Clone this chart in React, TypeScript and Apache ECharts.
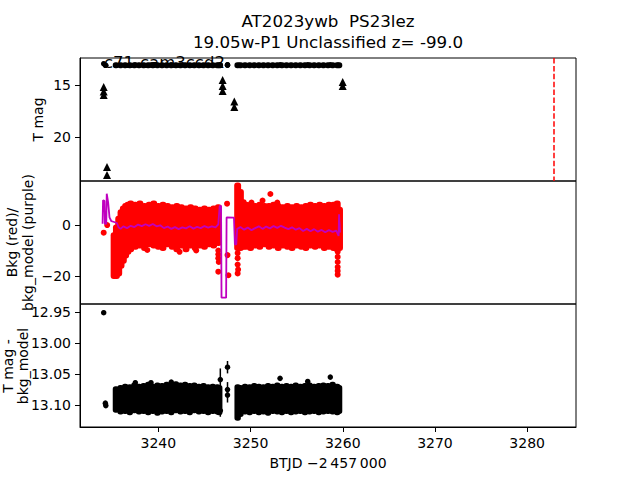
import React, { useEffect, useRef } from "react";
import * as echarts from "echarts";

// ---------- data ----------
const X_MIN = 3231.5;
const X_MAX = 3285.3;
const xTicks = [3240, 3250, 3260, 3270, 3280];
const magTicks = [15, 20];
const bkgTicks = [0, -20];
const diffTicks = [12.95, 13.0, 13.05, 13.1];

const titleLines = ["AT2023ywb  PS23lez", "19.05w-P1 Unclassified z= -99.0"];
const cameraLabel = "c71-cam3ccd2";
const xLabel = "BTJD \u22122\u2009457\u2009000";

const discoveryTime = 3282.84;

// upper limits (T mag) [time, mag]
const upperLimits: [number, number][] = [
  [3234.07, 15.18], [3234.07, 15.61], [3234.07, 15.95],
  [3234.43, 22.86], [3234.43, 23.62],
  [3246.97, 14.51], [3246.97, 15.09], [3246.97, 15.57],
  [3248.24, 16.57], [3248.24, 17.1],
  [3259.99, 14.7], [3259.99, 15.09],
];

// TESS difference photometry envelope: [time, brightest mag, faintest mag]
const magBins: [number, number, number][] = [
  [3235.4, 13.074, 13.108], [3235.9, 13.072, 13.111], [3236.4, 13.07, 13.11],
  [3236.9, 13.071, 13.112], [3237.4, 13.068, 13.109], [3237.9, 13.07, 13.111],
  [3238.4, 13.069, 13.11], [3238.9, 13.067, 13.112], [3239.4, 13.07, 13.11],
  [3239.9, 13.068, 13.113], [3240.4, 13.069, 13.111], [3240.9, 13.067, 13.11],
  [3241.4, 13.068, 13.112], [3241.9, 13.066, 13.109], [3242.4, 13.068, 13.111],
  [3242.9, 13.067, 13.11], [3243.4, 13.069, 13.112], [3243.9, 13.068, 13.109],
  [3244.4, 13.07, 13.111], [3244.9, 13.069, 13.11], [3245.4, 13.071, 13.112],
  [3245.9, 13.07, 13.11], [3246.4, 13.071, 13.111], [3246.6, 13.072, 13.112],
  [3248.6, 13.071, 13.121], [3248.9, 13.072, 13.115], [3249.4, 13.07, 13.111],
  [3249.9, 13.071, 13.112], [3250.4, 13.069, 13.11], [3250.9, 13.07, 13.112],
  [3251.4, 13.071, 13.111], [3251.9, 13.069, 13.113], [3252.4, 13.07, 13.11],
  [3252.9, 13.068, 13.111], [3253.4, 13.07, 13.112], [3253.9, 13.069, 13.11],
  [3254.4, 13.07, 13.112], [3254.9, 13.068, 13.111], [3255.4, 13.07, 13.11],
  [3255.9, 13.069, 13.112], [3256.4, 13.068, 13.111], [3256.9, 13.07, 13.11],
  [3257.4, 13.069, 13.112], [3257.9, 13.068, 13.111], [3258.4, 13.069, 13.11],
  [3258.9, 13.067, 13.111], [3259.4, 13.07, 13.112], [3259.6, 13.072, 13.11],
];

// isolated photometry points [time, mag]
const magPoints: [number, number][] = [
  [3234.07, 12.951], [3234.25, 13.097], [3234.3, 13.101],
  [3237.5, 13.064], [3239.2, 13.064], [3241.4, 13.063],
  [3253.2, 13.057], [3256.2, 13.062], [3258.65, 13.055],
];

// points with visible error bars [time, mag, err]
const magErrPoints: [number, number, number][] = [
  [3246.72, 13.059, 0.018], [3246.72, 13.109, 0.01],
  [3247.5, 13.039, 0.01], [3247.5, 13.075, 0.012], [3247.5, 13.084, 0.012],
];

// background flux envelope (red): [time, low, high]
const bkgBins: [number, number, number][] = [
  [3235.2, -20, -4], [3235.45, -20, -1], [3235.7, -19, 2.5], [3235.95, -16, 5],
  [3236.2, -14, 6.5], [3236.45, -12, 7.5], [3236.7, -10.5, 8], [3237.0, -9.5, 8.5],
  [3237.5, -8.5, 8], [3238.0, -8, 8.5], [3238.5, -9, 7.5], [3239.0, -7.5, 8],
  [3239.5, -8, 8.5], [3240.0, -8.5, 7.5], [3240.5, -9, 8], [3241.0, -7.5, 7.5],
  [3241.5, -8.5, 7], [3242.0, -9.5, 7.5], [3242.5, -8, 7], [3243.0, -9.5, 6.5],
  [3243.5, -8, 7], [3244.0, -9, 6.5], [3244.5, -8, 6], [3245.0, -8.5, 6.5],
  [3245.5, -7.5, 6], [3246.0, -8, 6.5], [3246.5, -7, 7],
  [3248.6, -9, 15.5], [3248.9, -9, 13], [3249.2, -8.5, 9], [3249.5, -8.5, 8],
  [3250.0, -9, 8], [3250.5, -8, 7.5], [3251.0, -8.5, 8], [3251.5, -7.5, 7.5],
  [3252.0, -8.5, 7.5], [3252.5, -8, 8], [3253.0, -9, 7.5], [3253.5, -8, 7],
  [3254.0, -8.5, 7.5], [3254.5, -9, 7], [3255.0, -8, 7.5], [3255.5, -8.5, 7],
  [3256.0, -9, 7.5], [3256.5, -8, 8], [3257.0, -8.5, 7.5], [3257.5, -8, 8],
  [3258.0, -9, 7.5], [3258.5, -8.5, 8], [3259.0, -9, 8], [3259.4, -9.5, 8.5],
  [3259.65, -9, 6],
];

// isolated background points [time, flux]
const bkgPoints: [number, number][] = [
  [3234.07, -3.0], [3234.45, 0.0],
  [3246.5, -10], [3246.5, -11.5], [3246.5, -13], [3246.55, -14.5], [3246.5, -18.3],
  [3247.45, 8.4], [3247.5, -11.8], [3247.6, -19.7],
  [3248.6, -11], [3248.6, -13], [3248.6, -15.5], [3248.65, -17.5], [3248.6, -19],
  [3250.1, 8.8], [3251.3, 9.6], [3252.15, 12.2], [3252.9, 8.8],
  [3259.45, -10.5], [3259.45, -12.5], [3259.45, -14.5], [3259.45, -16.5],
  [3259.45, -18], [3259.45, -19.5],
  [3238.8, -9.8], [3244.1, -10], [3242.3, -10.5],
];

// background model (purple) [time, flux]
const bkgModel: [number, number][] = [
  [3233.95, 0.5], [3234.0, 9.7], [3234.15, 9.5], [3234.2, 0.5], [3234.35, 0.5],
  [3234.4, 12.3], [3234.55, 9], [3234.7, 3], [3234.9, 1.5], [3235.2, 1.2],
  [3235.5, 0.8], [3235.7, -1], [3235.9, -1.5], [3236.2, -0.5], [3236.6, -1.2],
  [3237.0, -0.3], [3237.4, -0.8], [3237.8, 0.2], [3238.2, -0.4], [3238.6, 0.3],
  [3239.0, -0.3], [3239.4, 0.4], [3239.8, -0.5], [3240.2, -0.1], [3240.6, -1.2],
  [3241.0, -0.6], [3241.4, -1.5], [3241.8, -0.8], [3242.2, -1.6], [3242.6, -0.9],
  [3243.0, -1.3], [3243.4, -0.5], [3243.8, -1.4], [3244.2, -0.7], [3244.6, -1.2],
  [3245.0, -0.4], [3245.4, -1.0], [3245.8, -0.5], [3246.2, -0.9], [3246.5, 0.3],
  [3246.65, 7.5], [3246.8, 7.5], [3246.85, -28.5], [3247.35, -28.5], [3247.4, 3],
  [3248.2, 2.9], [3248.3, -7.6], [3248.45, -7.6], [3248.55, -1.5], [3248.9, -0.8],
  [3249.3, -1.8], [3249.7, -1.0], [3250.1, -2.0], [3250.5, -1.2], [3250.9, -0.5],
  [3251.3, -1.5], [3251.7, -0.6], [3252.1, -1.3], [3252.5, -0.4], [3252.9, -1.1],
  [3253.3, -0.3], [3253.7, -1.0], [3254.1, -1.6], [3254.5, -0.9], [3254.9, -1.8],
  [3255.3, -1.2], [3255.7, -2.3], [3256.1, -1.5], [3256.5, -2.4], [3256.9, -1.6],
  [3257.3, -2.6], [3257.7, -1.9], [3258.1, -2.8], [3258.5, -2.0], [3258.9, -2.7],
  [3259.3, -2.2], [3259.55, -4.3], [3259.6, 4.2], [3259.7, -2.9],
];

// ---------- chart ----------
const FONT = "DejaVu Sans";
const GRID_LEFT = 80;
const GRID_W = 496;
const PANEL_H = 123;
const PANEL_TOPS = [58, 181, 304];

const bandRender = (color: string, halfW: number, r: number) => (params: any, api: any) => {
  const t = api.value(0);
  const lo = api.value(1);
  const hi = api.value(2);
  const a = api.coord([t - halfW, lo]);
  const b = api.coord([t + halfW, hi]);
  const x = Math.min(a[0], b[0]) - r;
  const y = Math.min(a[1], b[1]) - r;
  return {
    type: "rect",
    shape: { x, y, width: Math.abs(b[0] - a[0]) + 2 * r, height: Math.abs(b[1] - a[1]) + 2 * r, r },
    style: { fill: color },
  };
};

const errRender = (params: any, api: any) => {
  const t = api.value(0);
  const v = api.value(1);
  const e = api.value(2);
  const a = api.coord([t, v - e]);
  const b = api.coord([t, v + e]);
  return {
    type: "line",
    shape: { x1: a[0], y1: a[1], x2: b[0], y2: b[1] },
    style: { stroke: "#000", lineWidth: 1.5 },
  };
};

export default function App() {
  const ref = useRef<HTMLDivElement>(null);

  useEffect(() => {
    if (!ref.current) return;
    const chart = echarts.init(ref.current, undefined, { renderer: "svg" });

    const grids = PANEL_TOPS.map((top) => ({
      left: GRID_LEFT,
      top,
      width: GRID_W,
      height: PANEL_H,
      show: true,
      borderColor: "#000",
      borderWidth: 1,
      backgroundColor: "transparent",
      outerBoundsMode: "none",
      containLabel: false,
    }));

    const xAxes = [0, 1, 2].map((i) => ({
      type: "value",
      gridIndex: i,
      min: X_MIN,
      max: X_MAX,
      axisLine: { show: i === 2, lineStyle: { color: "#000", width: 1 } },
      axisTick: {
        show: i === 2,
        customValues: xTicks,
        length: 5,
        lineStyle: { color: "#000", width: 1 },
      },
      axisLabel: {
        show: i === 2,
        customValues: xTicks,
        color: "#000",
        fontFamily: FONT,
        fontSize: 14,
        margin: 9,
        formatter: (v: number) => String(Math.round(v)),
      },
      splitLine: { show: false },
    }));

    const yCommon = (ticks: number[], fmt: (v: number) => string) => ({
      type: "value",
      axisLine: { show: true, lineStyle: { color: "#000", width: 1 } },
      axisTick: { show: true, customValues: ticks, length: 5, lineStyle: { color: "#000", width: 1 } },
      axisLabel: {
        show: true,
        customValues: ticks,
        color: "#000",
        fontFamily: FONT,
        fontSize: 14,
        margin: 9,
        formatter: fmt,
      },
      splitLine: { show: false },
    });

    const yAxes = [
      { ...yCommon(magTicks, (v) => String(Math.round(v))), gridIndex: 0, min: 12.4, max: 24.2, inverse: true },
      { ...yCommon(bkgTicks, (v) => String(Math.round(v)).replace("-", "\u2212")), gridIndex: 1, min: -31, max: 17.3 },
      { ...yCommon(diffTicks, (v) => v.toFixed(2)), gridIndex: 2, min: 12.937, max: 13.1355, inverse: true },
    ];

    const rotText = (text: string, x: number, y: number) => ({
      type: "text",
      x,
      y,
      rotation: Math.PI / 2,
      style: {
        text,
        fill: "#000",
        font: `14px "${FONT}"`,
        align: "center",
        verticalAlign: "middle",
      },
    });

    const dotStyle = (color: string) => ({ color, opacity: 1 });

    const option: any = {
      animation: false,
      backgroundColor: "#fff",
      grid: grids,
      xAxis: xAxes,
      yAxis: yAxes,
      graphic: [
        {
          type: "text",
          x: 328,
          y: 21,
          style: { text: titleLines[0], fill: "#000", font: `16.7px "${FONT}"`, align: "center", verticalAlign: "middle" },
        },
        {
          type: "text",
          x: 328,
          y: 42,
          style: { text: titleLines[1], fill: "#000", font: `16.7px "${FONT}"`, align: "center", verticalAlign: "middle" },
        },
        {
          type: "text",
          x: 328,
          y: 463,
          style: { text: xLabel, fill: "#000", font: `14px "${FONT}"`, align: "center", verticalAlign: "middle" },
        },
        {
          type: "text",
          x: 104,
          y: 62,
          z: 1,
          style: { text: cameraLabel, fill: "#000", font: `16.5px "${FONT}"`, align: "left", verticalAlign: "middle" },
        },
        rotText("T mag", 38, 119.5),
        rotText("Bkg (red)/", 12, 242.5),
        rotText("bkg_model (purple)", 28, 242.5),
        rotText("T mag -", 8, 366),
        rotText("bkg_model", 23, 366),
      ],
      series: [
        // top panel
        {
          type: "custom",
          xAxisIndex: 0,
          yAxisIndex: 0,
          data: magBins,
          encode: { x: 0, y: [1, 2] },
          renderItem: bandRender("#000", 0.05, 2.75),
          silent: true,
        },
        {
          type: "scatter",
          xAxisIndex: 0,
          yAxisIndex: 0,
          data: [...magPoints, ...magErrPoints.map((p) => [p[0], p[1]])],
          symbol: "circle",
          symbolSize: 5.5,
          itemStyle: dotStyle("#000"),
        },
        {
          type: "scatter",
          xAxisIndex: 0,
          yAxisIndex: 0,
          data: upperLimits,
          symbol: "triangle",
          symbolSize: [8, 8],
          itemStyle: dotStyle("#000"),
        },
        {
          type: "line",
          xAxisIndex: 0,
          yAxisIndex: 0,
          data: [],
          markLine: {
            silent: true,
            symbol: ["none", "none"],
            label: { show: false },
            lineStyle: { color: "#ff0000", width: 1.5, type: [5.5, 2.4], opacity: 1 },
            data: [{ xAxis: discoveryTime }],
          },
        },
        // middle panel
        {
          type: "custom",
          xAxisIndex: 1,
          yAxisIndex: 1,
          data: bkgBins,
          encode: { x: 0, y: [1, 2] },
          renderItem: bandRender("#ff0000", 0.05, 3),
          silent: true,
        },
        {
          type: "scatter",
          xAxisIndex: 1,
          yAxisIndex: 1,
          data: bkgPoints,
          symbol: "circle",
          symbolSize: 6,
          itemStyle: dotStyle("#ff0000"),
        },
        {
          type: "line",
          xAxisIndex: 1,
          yAxisIndex: 1,
          data: bkgModel,
          showSymbol: false,
          lineStyle: { color: "#bf00bf", width: 1.8, opacity: 1 },
          z: 5,
        },
        // bottom panel
        {
          type: "custom",
          xAxisIndex: 2,
          yAxisIndex: 2,
          data: magBins,
          encode: { x: 0, y: [1, 2] },
          renderItem: bandRender("#000", 0.05, 2.75),
          silent: true,
        },
        {
          type: "custom",
          xAxisIndex: 2,
          yAxisIndex: 2,
          data: magErrPoints,
          encode: { x: 0, y: 1 },
          renderItem: errRender,
          silent: true,
        },
        {
          type: "scatter",
          xAxisIndex: 2,
          yAxisIndex: 2,
          data: [...magPoints, ...magErrPoints.map((p) => [p[0], p[1]])],
          symbol: "circle",
          symbolSize: 5.5,
          itemStyle: dotStyle("#000"),
        },
      ],
    };

    chart.setOption(option);
    return () => chart.dispose();
  }, []);

  return (
    <div
      ref={ref}
      style={{ position: "absolute", left: 0, top: 0, width: 640, height: 480, background: "#fff" }}
    />
  );
}
